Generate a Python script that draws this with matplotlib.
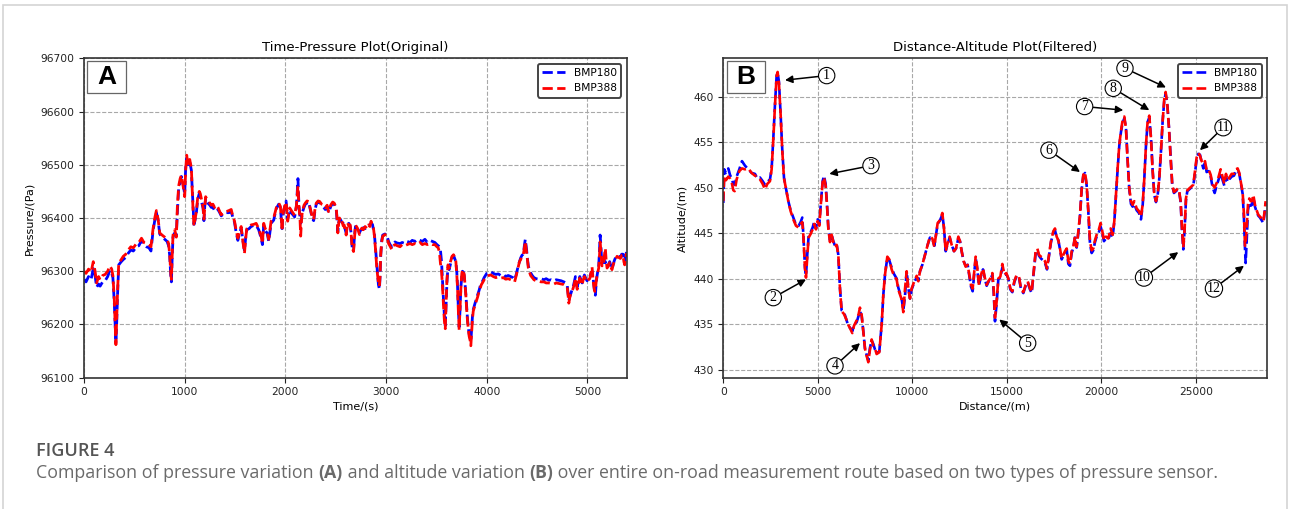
import numpy as np
import matplotlib.pyplot as plt
from matplotlib.patches import Rectangle

# ---- panel A: time / pressure (raw) ----
time_s = [0, 20, 45, 70, 92, 110, 125, 145, 160, 185, 210, 235, 257, 275, 287, 300, 310, 317, 325, 333,
          345, 370, 390, 415, 440, 465, 490, 521, 545, 571, 595, 620, 645, 665, 686, 705, 719, 736, 752, 775,
          802, 825, 840, 851, 862, 868, 876, 884, 901, 917, 927, 940, 955, 967, 983, 1000, 1010, 1020, 1033, 1050,
          1066, 1075, 1083, 1092, 1105, 1116, 1130, 1145, 1155, 1170, 1183, 1191, 1200, 1208, 1220, 1231, 1250, 1264, 1280, 1297,
          1315, 1330, 1348, 1363, 1385, 1412, 1440, 1462, 1480, 1495, 1510, 1528, 1545, 1561, 1575, 1594, 1605, 1617, 1640, 1660,
          1685, 1710, 1735, 1759, 1772, 1785, 1800, 1818, 1835, 1858, 1884, 1900, 1911, 1934, 1950, 1960, 1967, 1975, 1984, 2007,
          2023, 2043, 2066, 2092, 2110, 2125, 2135, 2145, 2152, 2160, 2168, 2185, 2198, 2215, 2231, 2245, 2257, 2270, 2281, 2295,
          2307, 2325, 2340, 2360, 2373, 2396, 2415, 2429, 2452, 2470, 2485, 2505, 2513, 2521, 2530, 2538, 2550, 2561, 2575, 2584,
          2595, 2604, 2617, 2630, 2644, 2655, 2663, 2677, 2686, 2696, 2716, 2736, 2748, 2759, 2775, 2792, 2810, 2825, 2840, 2851,
          2865, 2875, 2885, 2894, 2908, 2924, 2934, 2940, 2947, 2957, 2967, 2990, 3013, 3025, 3040, 3056, 3070, 3089, 3110, 3139,
          3160, 3188, 3210, 3238, 3260, 3287, 3310, 3337, 3360, 3386, 3410, 3436, 3460, 3485, 3505, 3518, 3530, 3540, 3551, 3561,
          3572, 3580, 3588, 3596, 3605, 3615, 3627, 3640, 3655, 3670, 3682, 3693, 3702, 3710, 3718, 3726, 3735, 3743, 3752, 3759,
          3768, 3776, 3785, 3792, 3800, 3809, 3818, 3825, 3835, 3842, 3850, 3858, 3866, 3875, 3887, 3898, 3910, 3924, 3935, 3947,
          3960, 3974, 3987, 4000, 4020, 4040, 4065, 4089, 4115, 4139, 4165, 4188, 4213, 4238, 4260, 4277, 4293, 4310, 4325, 4337,
          4350, 4363, 4375, 4383, 4390, 4396, 4405, 4413, 4425, 4436, 4452, 4469, 4490, 4518, 4540, 4568, 4590, 4617, 4640, 4667,
          4690, 4716, 4740, 4766, 4785, 4799, 4808, 4815, 4824, 4832, 4845, 4858, 4870, 4881, 4890, 4898, 4910, 4924, 4935, 4947,
          4958, 4970, 4985, 4997, 5010, 5023, 5035, 5046, 5055, 5063, 5072, 5079, 5088, 5096, 5105, 5112, 5120, 5126, 5133, 5140,
          5145, 5155, 5162, 5170, 5178, 5186, 5195, 5208, 5221, 5233, 5244, 5255, 5267, 5280, 5294, 5310, 5327, 5340, 5353, 5362,
          5370, 5380, 5388]

p_bmp388 = [96300, 96296, 96304, 96298, 96318, 96300, 96278, 96290, 96284, 96292, 96294, 96300, 96310, 96304, 96292, 96250, 96200, 96162, 96210, 96260,
            96315, 96322, 96328, 96332, 96340, 96346, 96344, 96352, 96354, 96362, 96354, 96352, 96350, 96346, 96380, 96402, 96414, 96398, 96372, 96368,
            96364, 96360, 96352, 96332, 96296, 96285, 96330, 96368, 96378, 96364, 96420, 96460, 96474, 96480, 96462, 96440, 96490, 96518, 96498, 96510,
            96494, 96450, 96415, 96385, 96400, 96412, 96440, 96450, 96446, 96432, 96420, 96398, 96420, 96440, 96436, 96432, 96428, 96424, 96426, 96420,
            96424, 96420, 96412, 96406, 96410, 96412, 96414, 96416, 96402, 96394, 96378, 96362, 96375, 96384, 96360, 96334, 96360, 96380, 96384, 96387,
            96388, 96390, 96380, 96366, 96352, 96390, 96380, 96375, 96360, 96394, 96400, 96412, 96420, 96428, 96422, 96400, 96376, 96405, 96416, 96430,
            96394, 96419, 96412, 96405, 96424, 96460, 96420, 96400, 96366, 96395, 96412, 96424, 96428, 96432, 96431, 96420, 96410, 96400, 96397, 96418,
            96428, 96432, 96431, 96426, 96425, 96419, 96424, 96412, 96425, 96430, 96428, 96419, 96400, 96372, 96390, 96400, 96392, 96394, 96385, 96387,
            96375, 96368, 96391, 96385, 96387, 96365, 96344, 96337, 96360, 96387, 96381, 96369, 96375, 96381, 96378, 96384, 96380, 96387, 96384, 96394,
            96384, 96381, 96365, 96344, 96306, 96278, 96272, 96290, 96331, 96355, 96366, 96369, 96362, 96352, 96347, 96341, 96348, 96350, 96348, 96346,
            96350, 96348, 96350, 96352, 96350, 96352, 96350, 96354, 96350, 96352, 96350, 96352, 96350, 96350, 96346, 96344, 96336, 96315, 96300, 96270,
            96230, 96205, 96192, 96240, 96285, 96312, 96306, 96318, 96328, 96331, 96326, 96319, 96295, 96268, 96225, 96190, 96230, 96268, 96295, 96303,
            96300, 96294, 96272, 96256, 96230, 96206, 96190, 96178, 96170, 96160, 96185, 96210, 96225, 96231, 96238, 96244, 96252, 96262, 96268, 96275,
            96279, 96284, 96288, 96290, 96292, 96293, 96290, 96288, 96289, 96287, 96288, 96285, 96286, 96284, 96282, 96280, 96292, 96306, 96318, 96322,
            96328, 96331, 96345, 96356, 96345, 96337, 96320, 96306, 96298, 96292, 96288, 96284, 96282, 96281, 96280, 96280, 96278, 96278, 96277, 96276,
            96278, 96277, 96276, 96275, 96273, 96270, 96255, 96240, 96250, 96256, 96262, 96268, 96276, 96287, 96278, 96266, 96276, 96287, 96280, 96274,
            96284, 96290, 96284, 96280, 96284, 96286, 96298, 96308, 96285, 96273, 96262, 96266, 96282, 96294, 96300, 96306, 96330, 96355, 96340, 96320,
            96310, 96318, 96318, 96332, 96343, 96320, 96306, 96310, 96316, 96308, 96303, 96312, 96318, 96322, 96328, 96326, 96324, 96330, 96331, 96318,
            96312, 96326, 96334]

p_bmp180 = [96285, 96280, 96290, 96284, 96305, 96292, 96270, 96276, 96272, 96280, 96282, 96290, 96302, 96296, 96288, 96244, 96196, 96165, 96205, 96255,
            96312, 96318, 96322, 96326, 96334, 96340, 96338, 96346, 96348, 96358, 96350, 96346, 96344, 96338, 96376, 96398, 96410, 96396, 96370, 96364,
            96360, 96356, 96348, 96330, 96290, 96280, 96326, 96364, 96372, 96368, 96410, 96455, 96468, 96478, 96465, 96445, 96495, 96512, 96500, 96506,
            96490, 96455, 96420, 96388, 96398, 96410, 96436, 96446, 96440, 96428, 96418, 96395, 96424, 96436, 96430, 96428, 96424, 96420, 96420, 96414,
            96418, 96416, 96410, 96404, 96408, 96410, 96410, 96412, 96400, 96392, 96374, 96358, 96372, 96380, 96362, 96338, 96362, 96378, 96380, 96384,
            96386, 96386, 96378, 96362, 96350, 96386, 96376, 96372, 96356, 96390, 96396, 96410, 96418, 96426, 96420, 96396, 96380, 96402, 96414, 96432,
            96398, 96416, 96408, 96402, 96422, 96474, 96422, 96402, 96390, 96398, 96410, 96420, 96426, 96428, 96430, 96418, 96408, 96398, 96395, 96415,
            96426, 96430, 96430, 96424, 96422, 96416, 96420, 96410, 96422, 96428, 96426, 96416, 96398, 96375, 96392, 96398, 96396, 96392, 96390, 96385,
            96378, 96372, 96388, 96390, 96384, 96368, 96346, 96340, 96365, 96384, 96378, 96372, 96378, 96378, 96382, 96380, 96384, 96384, 96388, 96390,
            96388, 96378, 96368, 96346, 96310, 96275, 96266, 96288, 96330, 96358, 96368, 96370, 96364, 96356, 96350, 96346, 96352, 96355, 96353, 96352,
            96354, 96352, 96356, 96354, 96358, 96356, 96360, 96358, 96356, 96360, 96354, 96358, 96356, 96354, 96350, 96348, 96346, 96340, 96318, 96280,
            96240, 96215, 96198, 96235, 96280, 96308, 96303, 96314, 96326, 96330, 96324, 96318, 96300, 96272, 96230, 96195, 96228, 96270, 96290, 96300,
            96298, 96292, 96275, 96258, 96235, 96210, 96192, 96182, 96175, 96168, 96190, 96215, 96228, 96234, 96242, 96248, 96256, 96264, 96272, 96278,
            96282, 96288, 96292, 96296, 96298, 96299, 96296, 96294, 96295, 96292, 96294, 96290, 96292, 96290, 96288, 96284, 96294, 96308, 96318, 96325,
            96330, 96332, 96350, 96360, 96350, 96340, 96322, 96310, 96302, 96297, 96292, 96288, 96286, 96285, 96286, 96284, 96286, 96283, 96284, 96282,
            96284, 96283, 96282, 96280, 96278, 96274, 96258, 96245, 96252, 96256, 96264, 96270, 96280, 96290, 96282, 96270, 96280, 96290, 96284, 96278,
            96286, 96293, 96286, 96282, 96290, 96290, 96296, 96300, 96290, 96276, 96258, 96255, 96280, 96292, 96302, 96310, 96340, 96368, 96350, 96325,
            96315, 96320, 96320, 96316, 96318, 96312, 96308, 96312, 96318, 96310, 96304, 96312, 96320, 96326, 96330, 96328, 96326, 96332, 96332, 96322,
            96318, 96330, 96336]

# ---- panel B: distance / altitude (filtered) ----
dist_m = [0, 50, 140, 265, 353, 441, 530, 600, 706, 847, 988, 1147, 1323, 1500, 1676, 1800, 1940, 2082, 2205, 2330,
          2470, 2558, 2646, 2734, 2822, 2875, 2946, 3034, 3122, 3211, 3316, 3440, 3563, 3704, 3846, 3987, 4092, 4180, 4234, 4322,
          4375, 4446, 4516, 4622, 4728, 4816, 4904, 4993, 5081, 5169, 5257, 5327, 5415, 5486, 5557, 5645, 5733, 5822, 5910, 5998,
          6086, 6174, 6262, 6386, 6492, 6615, 6739, 6827, 6915, 7056, 7162, 7232, 7321, 7409, 7497, 7585, 7673, 7762, 7850, 7938,
          8026, 8114, 8255, 8379, 8467, 8555, 8679, 8784, 8908, 9031, 9172, 9260, 9437, 9525, 9613, 9702, 9790, 9879, 9967, 10108,
          10231, 10320, 10408, 10531, 10672, 10814, 10937, 11060, 11166, 11255, 11343, 11466, 11590, 11678, 11766, 11872, 11978, 12084, 12207, 12313,
          12437, 12525, 12613, 12719, 12825, 12930, 13019, 13107, 13195, 13283, 13354, 13442, 13530, 13636, 13742, 13848, 13936, 14024, 14130, 14236,
          14306, 14377, 14465, 14553, 14659, 14765, 14871, 14977, 15082, 15188, 15294, 15400, 15523, 15647, 15753, 15876, 16000, 16106, 16229, 16317,
          16423, 16529, 16617, 16705, 16811, 16917, 17023, 17129, 17234, 17340, 17464, 17552, 17640, 17728, 17817, 17905, 17993, 18081, 18170, 18258,
          18346, 18434, 18522, 18610, 18698, 18787, 18875, 18963, 19051, 19139, 19228, 19316, 19404, 19492, 19580, 19667, 19755, 19861, 19967, 20055,
          20143, 20249, 20372, 20496, 20602, 20690, 20778, 20866, 20954, 21042, 21130, 21219, 21307, 21395, 21483, 21572, 21660, 21748, 21872, 21995,
          22101, 22190, 22278, 22366, 22454, 22542, 22631, 22719, 22807, 22895, 22983, 23071, 23160, 23248, 23336, 23406, 23494, 23583, 23671, 23759,
          23847, 23953, 24059, 24130, 24200, 24271, 24341, 24412, 24482, 24553, 24659, 24765, 24870, 24959, 25047, 25135, 25223, 25311, 25400, 25488,
          25576, 25682, 25788, 25894, 26000, 26106, 26211, 26317, 26423, 26511, 26599, 26687, 26776, 26899, 27022, 27128, 27216, 27305, 27393, 27481,
          27552, 27605, 27640, 27693, 27763, 27834, 27905, 27975, 28046, 28134, 28222, 28310, 28398, 28487, 28575, 28646, 28699]

alt_bmp388 = [448.5, 451.3, 450.8, 451.2, 451.0, 450.6, 449.7, 449.6, 450.9, 451.8, 452.1, 452.0, 452.1, 451.6, 451.3, 451.2, 450.9, 450.4, 449.8, 450.4,
              450.7, 452.0, 455.3, 459.0, 462.3, 462.7, 461.4, 458.0, 454.0, 451.0, 449.9, 448.5, 447.4, 446.5, 445.8, 445.6, 446.0, 446.2, 444.8, 441.1,
              440.1, 442.5, 444.5, 444.9, 445.4, 446.0, 445.4, 446.3, 445.8, 448.4, 450.6, 451.1, 450.2, 448.1, 445.5, 444.0, 444.8, 444.0, 443.5, 443.7,
              442.6, 438.9, 436.4, 436.1, 435.6, 434.9, 434.4, 434.0, 434.8, 435.4, 436.1, 436.8, 436.0, 434.1, 432.3, 431.5, 430.8, 432.2, 433.3, 432.6,
              432.3, 431.7, 431.9, 434.9, 438.2, 440.4, 442.4, 442.1, 441.0, 440.3, 439.9, 438.8, 437.7, 436.3, 438.8, 440.8, 438.9, 437.8, 438.9, 439.7,
              440.3, 439.7, 440.8, 441.5, 442.6, 443.7, 444.6, 444.4, 443.5, 444.8, 446.1, 446.4, 447.2, 445.5, 443.0, 443.9, 444.6, 443.7, 443.0, 443.3,
              444.6, 444.1, 443.0, 441.9, 441.3, 441.5, 440.4, 439.3, 438.9, 440.8, 442.4, 441.1, 439.3, 440.4, 441.1, 440.0, 439.3, 439.7, 440.0, 440.6,
              438.9, 435.7, 437.5, 440.0, 440.2, 441.6, 440.4, 440.6, 440.0, 438.9, 438.6, 439.7, 440.4, 440.2, 438.9, 438.5, 439.3, 439.7, 438.9, 438.5,
              440.8, 443.0, 443.3, 442.6, 442.4, 442.2, 441.9, 441.1, 442.6, 444.1, 445.2, 445.5, 444.6, 444.2, 443.3, 442.2, 442.6, 443.0, 443.3, 441.9,
              441.6, 443.0, 443.5, 444.6, 443.5, 445.2, 447.0, 449.9, 451.4, 451.7, 450.3, 447.4, 444.1, 443.1, 443.3, 444.2, 444.8, 445.3, 446.1, 445.2,
              444.2, 444.6, 444.4, 445.5, 444.8, 446.3, 449.2, 452.1, 454.7, 456.2, 457.4, 457.8, 456.5, 452.9, 449.9, 448.5, 448.1, 448.5, 447.7, 447.4,
              446.8, 448.1, 451.0, 454.7, 457.3, 457.9, 455.4, 451.8, 449.2, 448.5, 449.2, 451.0, 454.0, 457.3, 459.8, 460.5, 459.1, 456.5, 453.2, 450.2,
              449.5, 449.7, 449.9, 449.5, 448.5, 445.5, 443.4, 445.5, 448.8, 449.7, 449.9, 450.1, 450.3, 451.8, 453.3, 453.8, 453.5, 452.9, 452.6, 452.9,
              451.9, 452.0, 451.4, 450.3, 450.0, 450.5, 451.2, 452.0, 451.1, 450.4, 451.5, 450.8, 451.1, 451.5, 451.5, 452.0, 452.1, 451.6, 450.5, 449.5,
              447.0, 443.6, 444.0, 445.5, 448.1, 448.8, 448.5, 448.5, 449.2, 448.1, 447.5, 447.0, 446.8, 446.6, 446.3, 447.4, 448.5]

alt_bmp180 = [448.3, 452.0, 451.6, 452.1, 451.4, 451.0, 450.4, 450.3, 451.2, 452.0, 452.9, 452.4, 452.0, 451.6, 451.5, 451.0, 451.1, 450.7, 450.3, 450.6,
              450.9, 452.1, 455.4, 459.1, 462.3, 462.6, 461.6, 458.0, 454.1, 451.1, 449.9, 448.5, 447.5, 446.7, 445.9, 445.8, 446.2, 446.7, 444.9, 441.2,
              440.3, 442.7, 444.7, 445.1, 445.6, 446.3, 445.5, 446.5, 446.0, 448.5, 450.7, 451.3, 450.4, 448.2, 445.6, 444.2, 444.8, 444.1, 443.6, 443.8,
              442.6, 438.9, 436.5, 436.3, 435.6, 434.8, 434.5, 434.2, 434.9, 435.2, 435.9, 436.4, 435.9, 434.2, 432.3, 431.6, 431.0, 432.4, 433.2, 432.8,
              432.2, 431.8, 432.0, 434.9, 438.2, 440.4, 442.3, 442.0, 441.2, 440.5, 440.0, 439.0, 437.8, 436.5, 438.0, 440.8, 439.0, 437.8, 438.8, 439.6,
              440.1, 439.8, 440.8, 441.5, 442.6, 443.7, 444.5, 444.4, 443.6, 444.8, 446.0, 446.4, 447.0, 445.6, 443.0, 443.8, 444.5, 443.7, 443.0, 443.3,
              444.4, 444.1, 443.0, 441.9, 441.4, 441.5, 440.3, 439.1, 438.6, 440.6, 442.3, 441.0, 439.2, 440.3, 441.0, 439.9, 439.2, 439.6, 439.9, 440.4,
              438.6, 435.3, 437.3, 439.9, 440.1, 441.2, 440.4, 440.5, 440.0, 438.8, 438.5, 439.6, 440.3, 440.1, 438.8, 438.4, 439.2, 439.6, 438.8, 438.4,
              440.6, 442.8, 443.1, 442.5, 442.2, 442.0, 441.7, 441.0, 442.5, 444.0, 445.1, 445.3, 444.5, 444.2, 443.2, 442.1, 442.5, 442.8, 443.2, 441.6,
              441.4, 442.8, 443.4, 444.5, 443.4, 445.0, 446.8, 449.8, 451.3, 451.6, 450.2, 447.3, 443.8, 442.8, 443.1, 444.0, 444.6, 445.0, 445.7, 445.0,
              444.1, 444.4, 444.3, 445.0, 444.6, 446.2, 449.1, 452.0, 454.6, 456.1, 457.1, 457.6, 456.6, 453.0, 449.8, 448.2, 447.9, 448.2, 447.5, 447.2,
              446.5, 448.0, 451.0, 454.6, 457.2, 457.7, 455.5, 451.9, 449.2, 448.4, 449.1, 451.0, 454.0, 457.3, 459.6, 460.3, 459.2, 456.6, 453.3, 450.2,
              449.4, 449.6, 449.8, 449.4, 448.4, 445.4, 443.2, 445.4, 448.6, 449.6, 449.8, 450.0, 450.2, 451.6, 453.1, 453.7, 453.6, 452.8, 452.1, 452.8,
              451.7, 451.8, 451.2, 450.0, 449.4, 450.2, 450.9, 451.6, 450.8, 450.2, 451.2, 450.6, 450.9, 451.2, 451.3, 451.8, 451.9, 451.5, 450.4, 449.3,
              446.5, 443.3, 441.7, 444.0, 447.5, 448.3, 448.0, 448.1, 448.9, 447.9, 447.3, 446.9, 446.7, 446.4, 446.1, 447.2, 448.3]

# circled markers in panel B: label, arrow tip (x, y), label centre (x, y)
markers = [('1', (3265, 461.8), (5471, 462.3)),
           ('2', (4376, 439.9), (2646, 437.9)),
           ('3', (5608, 451.5), (7815, 452.4)),
           ('4', (7233, 432.9), (5910, 430.4)),
           ('5', (14603, 435.5), (16106, 432.9)),
           ('6', (18874, 451.7), (17233, 454.1)),
           ('7', (21164, 458.5), (19120, 458.9)),
           ('8', (22540, 458.5), (20635, 460.9)),
           ('9', (23423, 461.0), (21254, 463.1)),
           ('10', (24074, 442.9), (22259, 440.1)),
           ('11', (25222, 454.1), (26455, 456.6)),
           ('12', (27550, 441.4), (25963, 438.9))]

W, H = 1290, 509
fig = plt.figure(figsize=(W / 100, H / 100), dpi=100)
fig.patch.set_facecolor('white')

# light frame around the whole figure
fig.add_artist(Rectangle((3 / W, -0.02), 1284 / W, 1.02 - 5 / H, transform=fig.transFigure,
                         fill=False, ec='#d4d4d4', lw=1.2))

ax_bot = 1 - 377.7 / H
ax_h = 319.4 / H
ax1 = fig.add_axes([84 / W, ax_bot, 542.7 / W, ax_h])
ax2 = fig.add_axes([723.3 / W, ax_bot, 543.7 / W, ax_h])

tick_fs = 7.7

ax1.plot(time_s, p_bmp180, '--', color='#0000ff', lw=2.0, label='BMP180')
ax1.plot(time_s, p_bmp388, '--', color='#ff0000', lw=2.0, label='BMP388')
ax1.set_xlim(0, 5390)
ax1.set_ylim(96100, 96700)
ax1.set_xticks(np.arange(0, 5001, 1000))
ax1.set_yticks(np.arange(96100, 96701, 100))
ax1.ticklabel_format(useOffset=False, style='plain')
ax1.set_title('Time-Pressure Plot(Original)', fontsize=9.5, pad=5)
ax1.set_xlabel('Time/(s)', fontsize=8, labelpad=3)
ax1.set_ylabel('Pressure/(Pa)', fontsize=8, labelpad=4)

ax2.plot(dist_m, alt_bmp180, '--', color='#0000ff', lw=1.9, label='BMP180')
ax2.plot(dist_m, alt_bmp388, '--', color='#ff0000', lw=1.9, label='BMP388')
ax2.set_xlim(0, 28770)
ax2.set_ylim(429.1, 464.2)
ax2.set_xticks(np.arange(0, 25001, 5000))
ax2.set_yticks(np.arange(430, 461, 5))
ax2.set_title('Distance-Altitude Plot(Filtered)', fontsize=9.5, pad=5)
ax2.set_xlabel('Distance/(m)', fontsize=8, labelpad=3)
ax2.set_ylabel('Altitude/(m)', fontsize=8, labelpad=4)

for lab, tip, pos in markers:
    ax2.annotate(lab, xy=tip, xytext=pos, fontsize=10, family='Liberation Serif',
                 ha='center', va='center', zorder=5,
                 bbox=dict(boxstyle='circle,pad=0.12', fc='white', ec='black', lw=0.8),
                 arrowprops=dict(arrowstyle='-|>', color='black', lw=1.1,
                                 mutation_scale=11, shrinkA=0, shrinkB=0))

for ax, letter in [(ax1, 'A'), (ax2, 'B')]:
    ax.grid(True, ls='--', color='#a8a8a8', lw=0.8)
    ax.set_axisbelow(True)
    ax.tick_params(labelsize=tick_fs, length=3.5, width=0.8, colors='#222222')
    for s in ax.spines.values():
        s.set_color('#333333')
        s.set_linewidth(1.2)
    leg = ax.legend(loc='upper right', fontsize=tick_fs, fancybox=True, framealpha=1,
                    edgecolor='#444444', handlelength=2.2, borderaxespad=0.5)
    leg.get_frame().set_linewidth(1.4)
    ax.add_patch(Rectangle((0.006, 0.89), 0.071, 0.102, transform=ax.transAxes,
                           fc='white', ec='#666666', lw=0.9, zorder=6))
    ax.text(0.0415, 0.941, letter, transform=ax.transAxes, fontsize=19, fontweight='bold',
            family='Liberation Sans', ha='center', va='center', zorder=7)

# caption below the panels
fig.text(36 / W, 1 - 451 / H, 'FIGURE 4', fontsize=13, family='Open Sans',
         fontweight='semibold', color='#555555', va='center')

pieces = [('Comparison of pressure variation ', 'normal'), ('(A)', 'bold'),
          (' and altitude variation ', 'normal'), ('(B)', 'bold'),
          (' over entire on-road measurement route based on two types of pressure sensor.', 'normal')]
renderer = fig.canvas.get_renderer()
cap_fs = 12.8
x = 36 / W
for s, w in pieces:
    t = fig.text(x, 1 - 473 / H, s, fontsize=cap_fs, family='Open Sans', fontweight=w,
                 color='#6a6a6a', va='center')
    bb = t.get_window_extent(renderer)
    x += bb.width / W

fig.savefig('out.png', dpi=100)
